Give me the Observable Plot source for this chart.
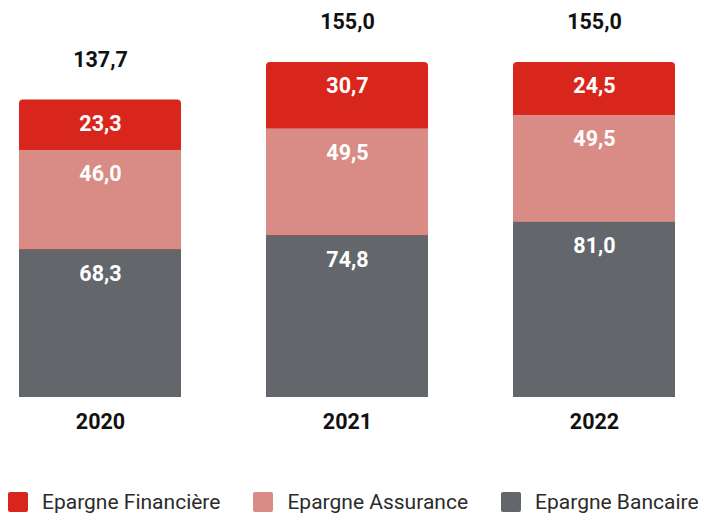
<!DOCTYPE html>
<html>
<head>
<meta charset="utf-8">
<script src="https://cdn.jsdelivr.net/npm/d3@7"></script>
<script src="https://cdn.jsdelivr.net/npm/@observablehq/plot@0.6"></script>
<style>
  html, body { margin: 0; padding: 0; background: #fff; }
  body { width: 705px; height: 515px; overflow: hidden; font-family: Roboto, "Noto Sans", sans-serif; }
  #chart { height: 480px; }
  #legend { display: flex; align-items: center; height: 24px; line-height: 24px; margin-top: 10px; padding-left: 8px; font-size: 21px; color: #2b2b2b; white-space: nowrap; }
  .item { display: flex; align-items: center; margin-right: 33px; }
  .sw { width: 20px; height: 20px; border-radius: 2px; margin-right: 14px; flex: none; }
</style>
</head>
<body>
<div id="chart"></div>
<div id="legend"></div>
<script>
const years = ["2020", "2021", "2022"];
const bancaire = [68.3, 74.8, 81.0];
const assurance = [46.0, 49.5, 49.5];
const financiere = [23.3, 30.7, 24.5];
const totals = [137.7, 155.0, 155.0];
const seriesNames = ["Epargne Financière", "Epargne Assurance", "Epargne Bancaire"];
const colors = ["#d9261c", "#d98b85", "#63666b"];

const rows = years.map((year, i) => ({
  year,
  bancaire: bancaire[i],
  assurance: assurance[i],
  financiere: financiere[i],
  total: totals[i],
  top1: bancaire[i],
  top2: bancaire[i] + assurance[i],
  top3: bancaire[i] + assurance[i] + financiere[i]
}));

const fmt = v => v.toFixed(1).replace(".", ",");

const labels = [];
rows.forEach(r => {
  labels.push({year: r.year, y: r.top1, v: r.bancaire});
  labels.push({year: r.year, y: r.top2, v: r.assurance});
  labels.push({year: r.year, y: r.top3, v: r.financiere});
});

const chart = Plot.plot({
  width: 705,
  height: 480,
  marginTop: 0, marginBottom: 0, marginLeft: 0, marginRight: 0,
  style: {fontFamily: "Roboto, 'Noto Sans', sans-serif", background: "#fff", display: "block"},
  x: {domain: years, range: [18, 676], paddingInner: 0.345, paddingOuter: 0, axis: null},
  y: {domain: [0, 155], range: [397, 62], axis: null},
  marks: [
    Plot.barY(rows, {x: "year", y1: 0, y2: "top3", fill: colors[0], rx: 4}),
    Plot.barY(rows, {x: "year", y1: "top1", y2: "top2", fill: colors[1]}),
    Plot.barY(rows, {x: "year", y1: 0, y2: "top1", fill: colors[2]}),
    Plot.text(labels, {x: "year", y: "y", text: d => fmt(d.v), dy: 24, fill: "#fff", fontSize: 21.5, fontWeight: "bold"}),
    Plot.text(rows, {x: "year", y: "total", text: d => fmt(d.total), dy: -40, fill: "#111", fontSize: 21.5, fontWeight: "bold"}),
    Plot.text(rows, {x: "year", y: () => 0, text: "year", dy: 25, fill: "#111", fontSize: 21.5, fontWeight: "bold"})
  ]
});
document.getElementById("chart").appendChild(chart);

const legend = document.getElementById("legend");
seriesNames.forEach((name, i) => {
  const item = document.createElement("div");
  item.className = "item";
  const sw = document.createElement("div");
  sw.className = "sw";
  sw.style.background = colors[i];
  const t = document.createElement("span");
  t.textContent = name;
  item.appendChild(sw);
  item.appendChild(t);
  legend.appendChild(item);
});
</script>
</body>
</html>
